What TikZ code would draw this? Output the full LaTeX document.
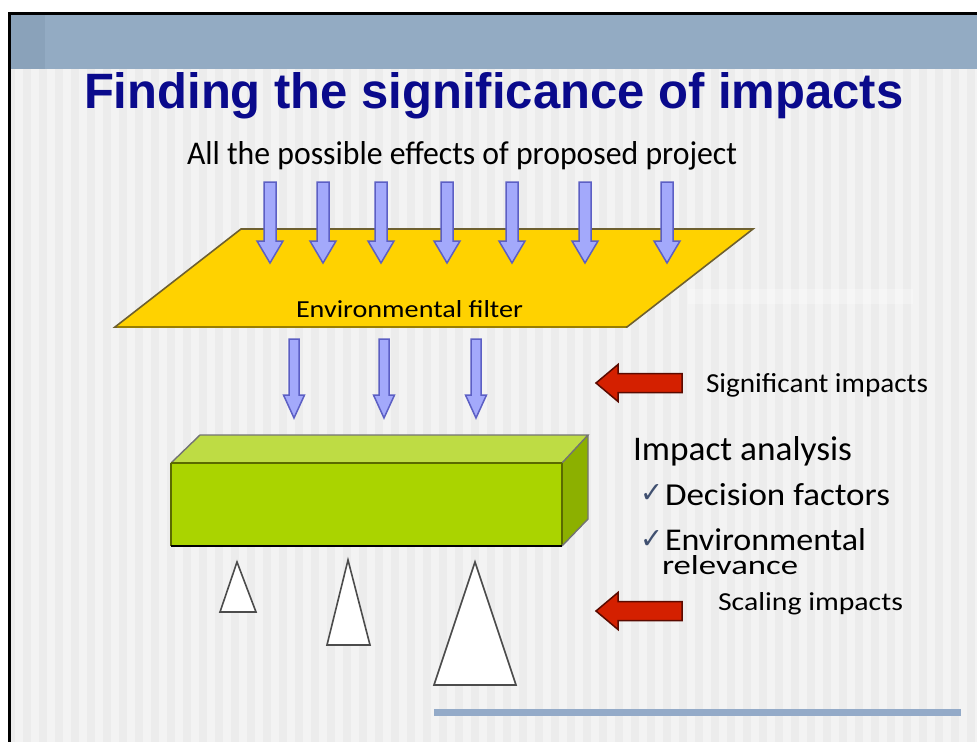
\documentclass[tikz,border=0pt]{standalone}
\usepackage{fontspec}
\usepackage{graphicx}
\setmainfont{Carlito}
\newfontfamily\titlefont{Liberation Sans}
\newfontfamily\symfont{DejaVu Sans}
\definecolor{slidebg}{HTML}{ECECEC}
\definecolor{stripe}{HTML}{F3F3F3}
\definecolor{header}{HTML}{93ABC3}
\definecolor{headerdark}{HTML}{8AA2BA}
\definecolor{titleblue}{HTML}{0A0A8C}
\definecolor{arrowfill}{HTML}{A3A9FB}
\definecolor{arrowline}{HTML}{5C5FC4}
\definecolor{redfill}{HTML}{D42000}
\definecolor{redline}{HTML}{5A0A00}
\definecolor{filterfill}{HTML}{FFD200}
\definecolor{filterline}{HTML}{6E6030}
\definecolor{boxfront}{HTML}{AAD400}
\definecolor{boxtop}{HTML}{BEDC44}
\definecolor{boxside}{HTML}{8CB000}
\definecolor{boxline}{HTML}{5A6A00}
\definecolor{rulecol}{HTML}{93AAC8}
\definecolor{checkcol}{HTML}{405070}
\newcommand{\fitbox}[3]{\resizebox{#1pt}{#2pt}{#3}}
\begin{document}
\begin{tikzpicture}[x=1pt,y=-1pt,
  txt/.style={inner sep=0pt, outer sep=0pt, anchor=base west},
  barrow/.style={fill=arrowfill, draw=arrowline, line width=1.5pt, line join=miter},
  rarrow/.style={fill=redfill, draw=redline, line width=1.5pt},
  tri/.style={fill=white, draw=black!70, line width=1.6pt, line join=miter},
  edge3d/.style={draw=boxline, line width=1.4pt, line join=miter}]
\useasboundingbox (0,0) rectangle (977,742);
\fill[white] (0,0) rectangle (977,742);
% slide background with light stripes
\fill[slidebg] (8,12) rectangle (977,742);
\foreach \i in {0,...,60}
  \fill[stripe] (15+16*\i,69) rectangle (23+16*\i,742);
% header band
\fill[header] (11,15) rectangle (977,69);
\fill[headerdark] (11,15) rectangle (45,69);
% black frame
\fill[black] (8,12) rectangle (977,15);
\fill[black] (8,12) rectangle (11,742);

% title
\node[txt, text=titleblue] (title) at (84,108)
  {\fitbox{819}{36}{\titlefont\bfseries Finding the significance of impacts}};
\node[txt] (effects) at (187,164)
  {\fitbox{550}{23}{All the possible effects of proposed project}};

% environmental filter
\fill[white, opacity=0.3] (688,289) rectangle (913,304);
\draw[fill=filterfill, draw=filterline, line width=1.6pt, line join=miter]
  (241,229) -- (753,229) -- (627,327) -- (115,327) -- cycle;
\draw[draw=filterfill!60!black, line width=1.6pt] (117,327) -- (626,327);
\node[txt] (filter) at (296,317)
  {\fitbox{227}{17}{Environmental filter}};

% upper arrows
\foreach \c in {270,323,381,447,512,585,667}
  \draw[barrow] (\c-6,182) -- (\c+6,182) -- (\c+6,241) -- (\c+13,241)
    -- (\c,263) -- (\c-13,241) -- (\c-6,241) -- cycle;
% lower arrows
\foreach \c in {294,384,476}
  \draw[barrow] (\c-5,339) -- (\c+5,339) -- (\c+5,395) -- (\c+10.5,395)
    -- (\c,418) -- (\c-10.5,395) -- (\c-5,395) -- cycle;

% red arrows
\foreach \m in {383,611}
  \draw[rarrow] (682,\m-9.5) -- (618,\m-9.5) -- (618,\m-18.5) -- (596,\m)
    -- (618,\m+18.5) -- (618,\m+9.5) -- (682,\m+9.5) -- cycle;

\node[txt] (signif) at (706,392) {\fitbox{222}{19}{Significant impacts}};
\node[txt] (scaling) at (718,610) {\fitbox{185}{18}{Scaling impacts}};

% green 3D box
\fill[boxtop] (171,463) -- (200,435) -- (588,435) -- (562,463) -- cycle;
\fill[boxside] (562,463) -- (588,435) -- (588,519) -- (562,546) -- cycle;
\fill[boxfront] (171,463) rectangle (562,546);
\draw[edge3d, draw=black!55] (171,463) -- (200,435) -- (588,435) -- (562,463);
\draw[edge3d] (171,463) -- (562,463);
\draw[edge3d] (171,546) -- (171,463);
\draw[edge3d] (562,463) -- (562,546);
\draw[edge3d, draw=black!55] (588,435) -- (588,519) -- (562,546);
\draw[black, line width=1.8pt] (171,546) -- (562,546);

% triangles
\draw[tri] (237,562) -- (256,612) -- (220,612) -- cycle;
\draw[tri] (348,560) -- (370,645) -- (327,645) -- cycle;
\draw[tri] (475,562) -- (516,685) -- (434,685) -- cycle;

% impact analysis text
\node[txt] (analysis) at (633,460) {\fitbox{219}{24}{Impact analysis}};
\node[txt, text=checkcol] (chk1) at (640,502) {\fitbox{23}{18}{\symfont ✓}};
\node[txt] (decision) at (665,505) {\fitbox{225}{22}{Decision factors}};
\node[txt, text=checkcol] (chk2) at (640,548) {\fitbox{23}{18}{\symfont ✓}};
\node[txt] (envrel) at (665,550) {\fitbox{201}{22}{Environmental}};
\node[txt] (relev) at (662,574) {\fitbox{136}{19}{relevance}};

% bottom rule
\fill[rulecol] (434,709) rectangle (961,716);
\end{tikzpicture}
\end{document}
